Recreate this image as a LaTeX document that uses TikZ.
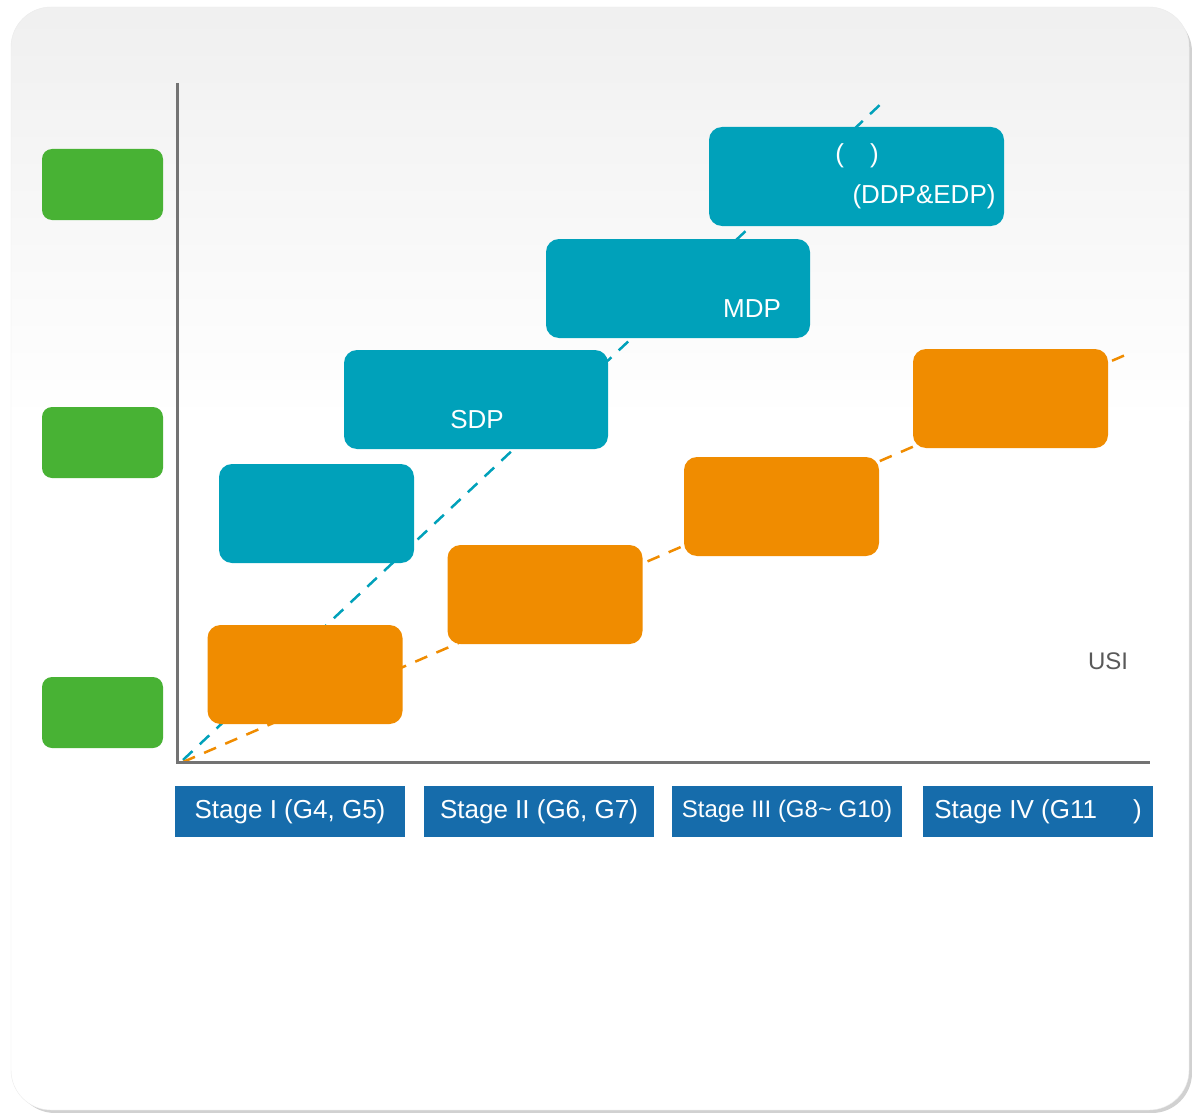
\documentclass[tikz,border=0pt]{standalone}
\usepackage{fontspec}
\setmainfont{Liberation Sans}
\usetikzlibrary{positioning}
\definecolor{tealfill}{RGB}{0,161,186}
\definecolor{orangefill}{RGB}{240,140,0}
\definecolor{greenfill}{RGB}{72,178,52}
\definecolor{stagefill}{RGB}{22,108,171}
\tikzset{
  tealbox/.style={fill=tealfill,rounded corners=13pt,inner sep=0pt},
  orangebox/.style={fill=orangefill,rounded corners=13pt,inner sep=0pt,minimum width=195pt,minimum height=99pt},
  greenbox/.style={fill=greenfill,rounded corners=10pt,inner sep=0pt,minimum width=121pt,minimum height=71pt},
  stagebox/.style={fill=stagefill,inner sep=0pt,minimum width=230pt,minimum height=51pt,text=white,font=\fontsize{26}{30}\selectfont},
  boxtext/.style={text=white,inner sep=0pt,font=\fontsize{26}{30}\selectfont},
  trend/.style={line width=2.5pt,dash pattern=on 13pt off 10pt}
}
\begin{document}
\begin{tikzpicture}[x=1pt,y=-1pt]
\useasboundingbox (0,0) rectangle (1192,1113);
% card
\fill[black!18,rounded corners=40pt] (15,12) rectangle (1192,1113);
\fill[white,rounded corners=40pt] (11,7) rectangle (1189,1110);
\begin{scope}
\clip[rounded corners=40pt] (11,7) rectangle (1189,1110);
\shade[top color=black!6,bottom color=white] (11,7) rectangle (1189,420);
\end{scope}
\draw[black!8,rounded corners=40pt] (11,7) rectangle (1189,1110);
% trend lines
\coordinate (tA) at (183,760);
\coordinate (tB) at (884,101);
\coordinate (oA) at (183,762);
\coordinate (oB) at (1130,353);
\draw[trend,tealfill] (tA) -- (tB);
\draw[trend,orangefill] (oA) -- (oB);
% axes
\coordinate (ytop) at (177,83);
\coordinate (origin) at (177,762);
\coordinate (xend) at (1150,762);
\draw[black!55,line width=3pt] (ytop) -- (origin) -- (xend);
% levels
\node[greenbox] (g1) at (102.5,184.5) {};
\node[greenbox] (g2) at (102.5,442.5) {};
\node[greenbox] (g3) at (102.5,712.5) {};
% teal boxes
\node[tealbox,minimum width=195pt,minimum height=99pt] (t1) at (316.5,513.5) {};
\node[tealbox,minimum width=264pt,minimum height=99pt] (t2) at (476,399.5) {};
\node[tealbox,minimum width=264pt,minimum height=99pt] (t3) at (678,288.5) {};
\node[tealbox,minimum width=295pt,minimum height=99pt] (t4) at (856.5,176.5) {};
\node[boxtext] (sdp) at (477,420) {SDP};
\node[boxtext] (mdp) at (752,309) {MDP};
\node[boxtext] (t4a) at (857,156) {(\hspace{26pt})};
\node[boxtext] (t4b) at (924,197) {(DDP\&EDP)};
% orange boxes
\node[orangebox] (o1) at (305,674.5) {};
\node[orangebox] (o2) at (545,594.5) {};
\node[orangebox] (o3) at (781.5,506.5) {};
\node[orangebox] (o4) at (1010.5,398.5) {};
\node[text=black!65,inner sep=0pt,font=\fontsize{24}{28}\selectfont] (usi) at (1108,661) {USI};
% stages
\node[stagebox] (s1) at (290,811.5) {Stage I (G4, G5)};
\node[stagebox] (s2) at (539,811.5) {Stage II (G6, G7)};
\node[stagebox,font=\fontsize{24}{28}\selectfont] (s3) at (787,811.5) {Stage III (G8\textasciitilde{} G10)};
\node[stagebox] (s4) at (1038,811.5) {Stage IV (G11\hspace{36pt})};
\end{tikzpicture}
\end{document}
